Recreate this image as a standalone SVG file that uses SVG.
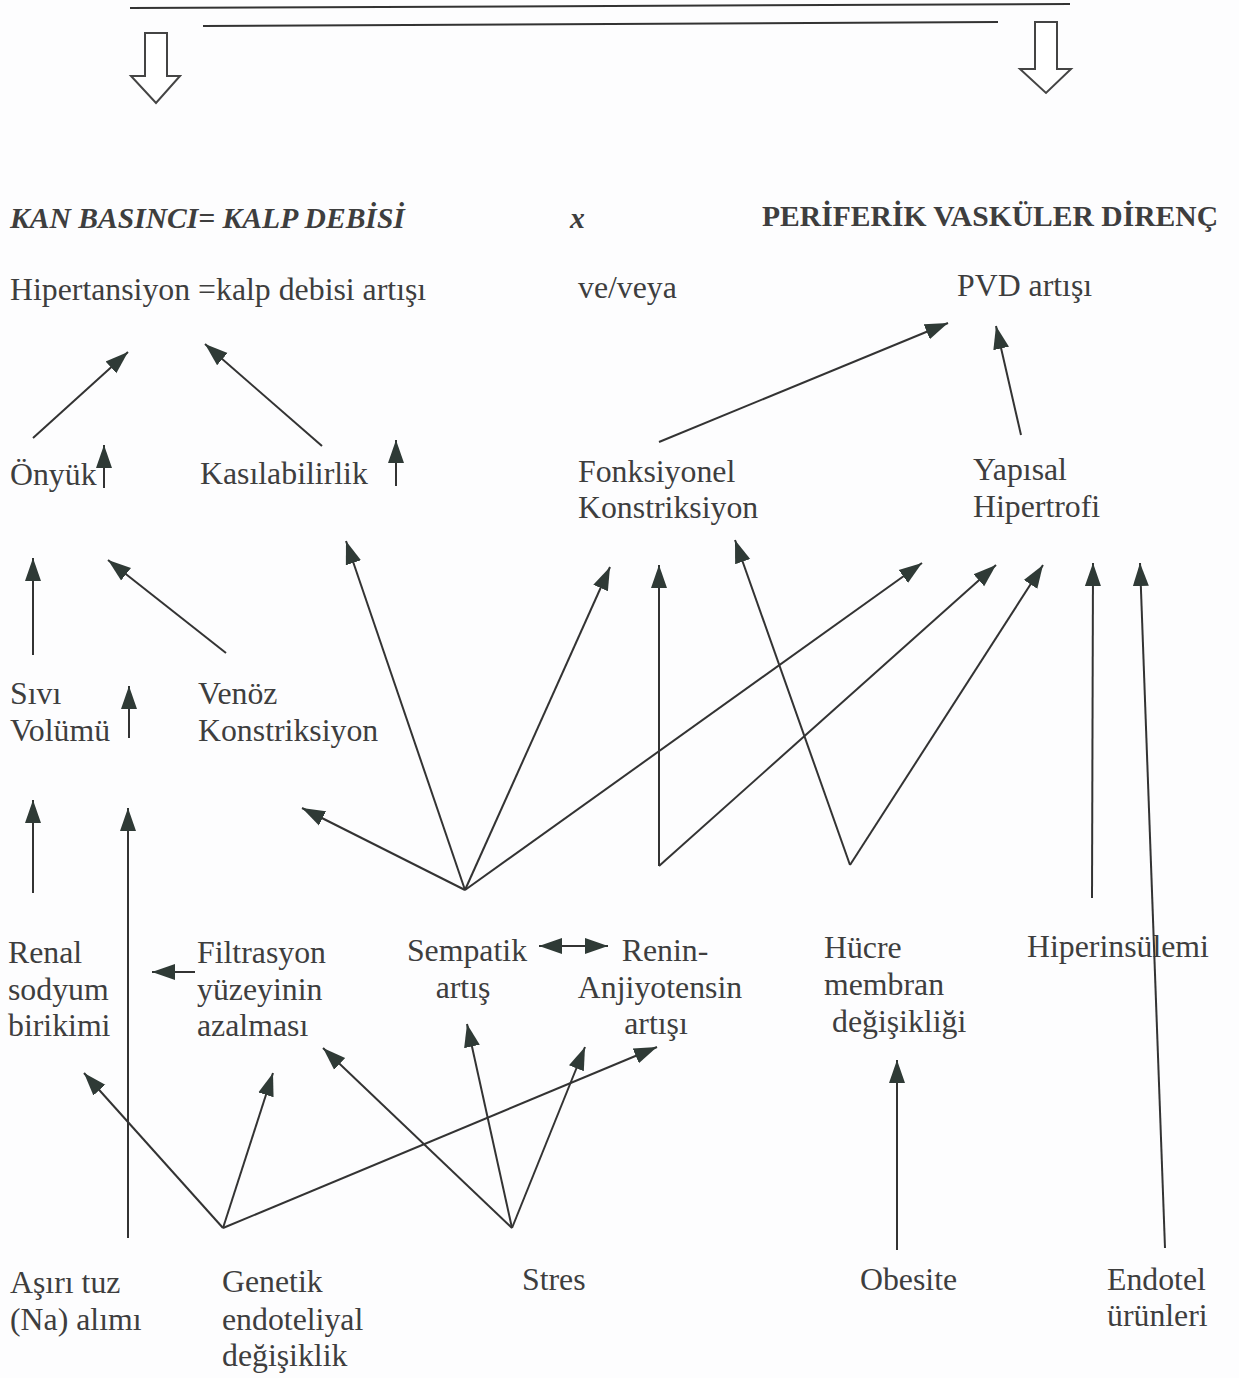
<svg xmlns="http://www.w3.org/2000/svg" width="1239" height="1378" viewBox="0 0 1239 1378">
<style>
text{font-family:"Liberation Serif","Times New Roman",serif;font-size:31.8px;fill:#3e3e3e}
.h{font-weight:bold;font-size:29.6px}
.hi{font-weight:bold;font-style:italic;font-size:29.6px}
.c line{stroke:#333;stroke-width:2;fill:none;marker-end:url(#ah)}
.plain{stroke:#333;stroke-width:2;fill:none}
.hollow{stroke:#444;stroke-width:2;fill:#fff}
</style>
<defs>
<marker id="ah" markerUnits="userSpaceOnUse" markerWidth="26" markerHeight="18" refX="23" refY="9" orient="auto"><path d="M0,1 L23,9 L0,17 Z" fill="#2f3a36"/></marker>
<marker id="as" markerUnits="userSpaceOnUse" markerWidth="26" markerHeight="18" refX="2" refY="9" orient="auto"><path d="M25,1 L2,9 L25,17 Z" fill="#2f3a36"/></marker>
</defs>
<rect width="1239" height="1378" fill="#fdfdfe"/>
<g id="top">
<line class="plain" x1="130" y1="8" x2="1070" y2="4"/>
<line class="plain" x1="203" y1="26" x2="998" y2="22"/>
<path class="hollow" d="M145,33 H167 V76 H180 L156,103 L131,76 H145 Z"/>
<path class="hollow" d="M1035,22 H1057 V69 H1071 L1046,93 L1020,69 H1035 Z"/>
</g>
<g id="header">
<text class="hi" x="10" y="228">KAN BASINCI= KALP DEBİSİ</text>
<text class="hi" x="570" y="228">x</text>
<text class="h" x="762" y="226">PERİFERİK VASKÜLER DİRENÇ</text>
</g>
<g id="hipertansiyon"><text x="10" y="300">Hipertansiyon =kalp debisi artışı</text></g>
<g id="veveya"><text x="578" y="298">ve/veya</text></g>
<g id="pvd"><text x="957" y="296">PVD artışı</text></g>
<g id="onyuk"><text x="10" y="485">Önyük</text></g>
<g id="kasilabilirlik"><text x="200" y="484">Kasılabilirlik</text></g>
<g id="fonksiyonel"><text x="578" y="482">Fonksiyonel</text><text x="578" y="518">Konstriksiyon</text></g>
<g id="yapisal"><text x="973" y="480">Yapısal</text><text x="973" y="517">Hipertrofi</text></g>
<g id="sivi"><text x="10" y="704">Sıvı</text><text x="10" y="741">Volümü</text></g>
<g id="venoz"><text x="198" y="704">Venöz</text><text x="198" y="741">Konstriksiyon</text></g>
<g id="renal"><text x="8" y="963">Renal</text><text x="8" y="1000">sodyum</text><text x="8" y="1036">birikimi</text></g>
<g id="filtrasyon"><text x="197" y="963">Filtrasyon</text><text x="197" y="1000">yüzeyinin</text><text x="197" y="1036">azalması</text></g>
<g id="sempatik"><text x="467" y="961" text-anchor="middle">Sempatik</text><text x="463" y="998" text-anchor="middle">artış</text></g>
<g id="renin"><text x="665" y="961" text-anchor="middle">Renin-</text><text x="660" y="998" text-anchor="middle">Anjiyotensin</text><text x="656" y="1034" text-anchor="middle">artışı</text></g>
<g id="hucre"><text x="824" y="958">Hücre</text><text x="824" y="995">membran</text><text x="832" y="1032">değişikliği</text></g>
<g id="hiperinsulemi"><text x="1027" y="957">Hiperinsülemi</text></g>
<g id="tuz"><text x="10" y="1293">Aşırı tuz</text><text x="10" y="1330">(Na) alımı</text></g>
<g id="genetik"><text x="222" y="1292">Genetik</text><text x="222" y="1330">endoteliyal</text><text x="222" y="1366">değişiklik</text></g>
<g id="stres"><text x="522" y="1290">Stres</text></g>
<g id="obesite"><text x="860" y="1290">Obesite</text></g>
<g id="endotel"><text x="1107" y="1290">Endotel</text><text x="1107" y="1326">ürünleri</text></g>
<g id="connectors" class="c">
<line x1="33" y1="438" x2="128" y2="352"/>
<line x1="322" y1="446" x2="205" y2="344"/>
<line x1="104" y1="488" x2="104" y2="445"/>
<line x1="396" y1="486" x2="396" y2="440"/>
<line x1="659" y1="442" x2="948" y2="323"/>
<line x1="1021" y1="435" x2="996" y2="326"/>
<line x1="33" y1="655" x2="33" y2="558"/>
<line x1="226" y1="653" x2="108" y2="560"/>
<line x1="129" y1="738" x2="129" y2="686"/>
<line x1="465" y1="890" x2="346" y2="541"/>
<line x1="465" y1="890" x2="610" y2="567"/>
<line x1="465" y1="890" x2="922" y2="563"/>
<line x1="465" y1="890" x2="302" y2="808"/>
<line x1="659" y1="866" x2="659" y2="565"/>
<line x1="659" y1="866" x2="996" y2="565"/>
<line x1="850" y1="865" x2="735" y2="540"/>
<line x1="850" y1="865" x2="1043" y2="565"/>
<line x1="1092" y1="898" x2="1093" y2="563"/>
<line x1="1165" y1="1248" x2="1140" y2="563"/>
<line x1="33" y1="893" x2="33" y2="800"/>
<line x1="128" y1="1238" x2="128" y2="808"/>
<line x1="195" y1="972" x2="152" y2="972"/>
<line x1="539" y1="946" x2="608" y2="946" style="marker-start:url(#as)"/>
<line x1="223" y1="1228" x2="84" y2="1073"/>
<line x1="223" y1="1228" x2="273" y2="1073"/>
<line x1="223" y1="1228" x2="657" y2="1047"/>
<line x1="512" y1="1228" x2="323" y2="1048"/>
<line x1="512" y1="1228" x2="467" y2="1024"/>
<line x1="512" y1="1228" x2="585" y2="1047"/>
<line x1="897" y1="1250" x2="897" y2="1060"/>
</g>
</svg>
